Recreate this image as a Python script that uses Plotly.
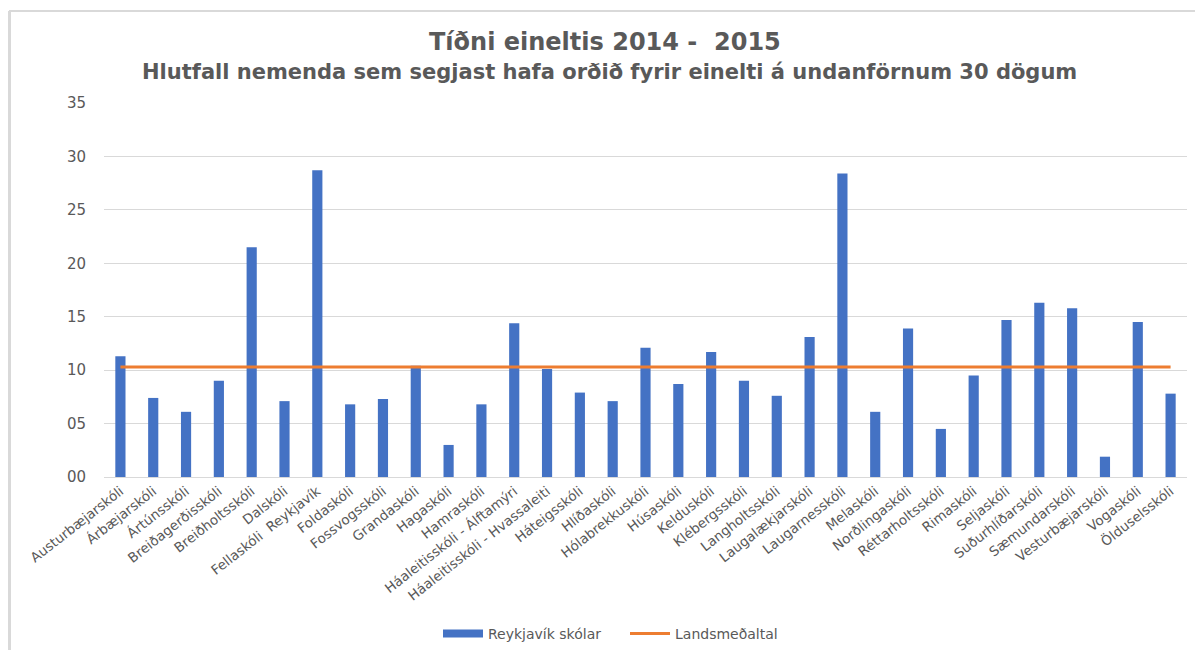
import plotly.graph_objects as go

schools = [
    "Austurbæjarskóli", "Árbæjarskóli", "Ártúnsskóli", "Breiðagerðisskóli",
    "Breiðholtsskóli", "Dalskóli", "Fellaskóli  Reykjavík", "Foldaskóli",
    "Fossvogsskóli", "Grandaskóli", "Hagaskóli", "Hamraskóli",
    "Háaleitisskóli - Álftamýri", "Háaleitisskóli - Hvassaleiti", "Háteigsskóli",
    "Hlíðaskóli", "Hólabrekkuskóli", "Húsaskóli", "Kelduskóli", "Klébergsskóli",
    "Langholtsskóli", "Laugalækjarskóli", "Laugarnesskóli", "Melaskóli",
    "Norðlingaskóli", "Réttarholtsskóli", "Rimaskóli", "Seljaskóli",
    "Suðurhlíðarskóli", "Sæmundarskóli", "Vesturbæjarskóli", "Vogaskóli",
    "Ölduselsskóli",
]
reykjavik_values = [
    11.3, 7.4, 6.1, 9.0, 21.5, 7.1, 28.7, 6.8, 7.3, 10.4, 3.0, 6.8,
    14.4, 10.1, 7.9, 7.1, 12.1, 8.7, 11.7, 9.0, 7.6, 13.1, 28.4, 6.1,
    13.9, 4.5, 9.5, 14.7, 16.3, 15.8, 1.9, 14.5, 7.8,
]
landsmedaltal = 10.3
y_tickvals = [0, 5, 10, 15, 20, 25, 30, 35]
y_ticktext = ["00", "05", "10", "15", "20", "25", "30", "35"]

title_text = "Tíðni eineltis 2014 -  2015"
subtitle_text = "Hlutfall nemenda sem segjast hafa orðið fyrir einelti á undanförnum 30 dögum"

GREY = "#595959"
GRID = "#d9d9d9"
BLUE = "#4472C4"
ORANGE = "#ED7D31"
FONT = "DejaVu Sans, Verdana, sans-serif"

# page is offset by the 8px body margin; work in page pixels and convert
OFF = 8
W, H = 1203 - OFF, 650 - OFF
L, T = 104 - OFF, 103 - OFF
R = W - (1187 - OFF)
B = H - (477 - OFF)
pw, ph = W - L - R, H - T - B


def px_x(px):
    return (px - OFF - L) / pw


def px_y(py):
    return (H - B - (py - OFF)) / ph


fig = go.Figure()
fig.add_trace(go.Bar(
    x=schools, y=reykjavik_values, name="Reykjavík skólar",
    marker=dict(color=BLUE, line=dict(width=0)), showlegend=False,
))
# legend proxy for the bar series (wide flat swatch as in the original)
fig.add_trace(go.Scatter(
    x=[None], y=[None], name="Reykjavík skólar", mode="lines",
    line=dict(color=BLUE, width=8), showlegend=True,
))
fig.add_trace(go.Scatter(
    x=schools, y=[landsmedaltal] * len(schools), name="Landsmeðaltal",
    mode="lines", line=dict(color=ORANGE, width=3),
))

fig.update_layout(
    width=W, height=H,
    margin=dict(l=L, r=R, t=T, b=B, autoexpand=False),
    paper_bgcolor="white", plot_bgcolor="white",
    font=dict(family=FONT, color=GREY),
    bargap=0.69,
    showlegend=True,
    legend=dict(
        orientation="h", x=px_x(625), xanchor="center", y=px_y(634), yanchor="middle",
        font=dict(size=14, color=GREY, family=FONT), traceorder="normal",
        itemwidth=40, entrywidth=132, entrywidthmode="pixels",
    ),
    xaxis=dict(
        type="category", tickangle=-38, tickfont=dict(size=13.5, color=GREY, family=FONT),
        showgrid=False, showline=True, linecolor=GRID, linewidth=1.3,
        ticks="", automargin=False,
    ),
    yaxis=dict(
        range=[0, 35], tickvals=y_tickvals, ticktext=y_ticktext,
        tickfont=dict(size=15, color=GREY, family=FONT), showgrid=True, gridcolor=GRID,
        gridwidth=1.3, zeroline=False, showline=False, ticks="",
        ticklabelstandoff=17, automargin=False,
    ),
    annotations=[
        dict(text="<b>" + title_text + "</b>", x=px_x(605), y=px_y(42),
             xref="paper", yref="paper", xanchor="center", yanchor="middle",
             showarrow=False, font=dict(size=24, color=GREY, family=FONT)),
        dict(text="<b>" + subtitle_text + "</b>", x=px_x(609), y=px_y(72),
             xref="paper", yref="paper", xanchor="center", yanchor="middle",
             showarrow=False, font=dict(size=21, color=GREY, family=FONT)),
    ],
    shapes=[
        dict(type="line", xref="paper", yref="paper", x0=px_x(9), x1=px_x(1220),
             y0=px_y(11), y1=px_y(11), line=dict(color=GRID, width=2)),
        dict(type="line", xref="paper", yref="paper", x0=px_x(9.5), x1=px_x(9.5),
             y0=px_y(11), y1=px_y(660), line=dict(color=GRID, width=3)),
    ],
)

fig.write_html("out.html")
